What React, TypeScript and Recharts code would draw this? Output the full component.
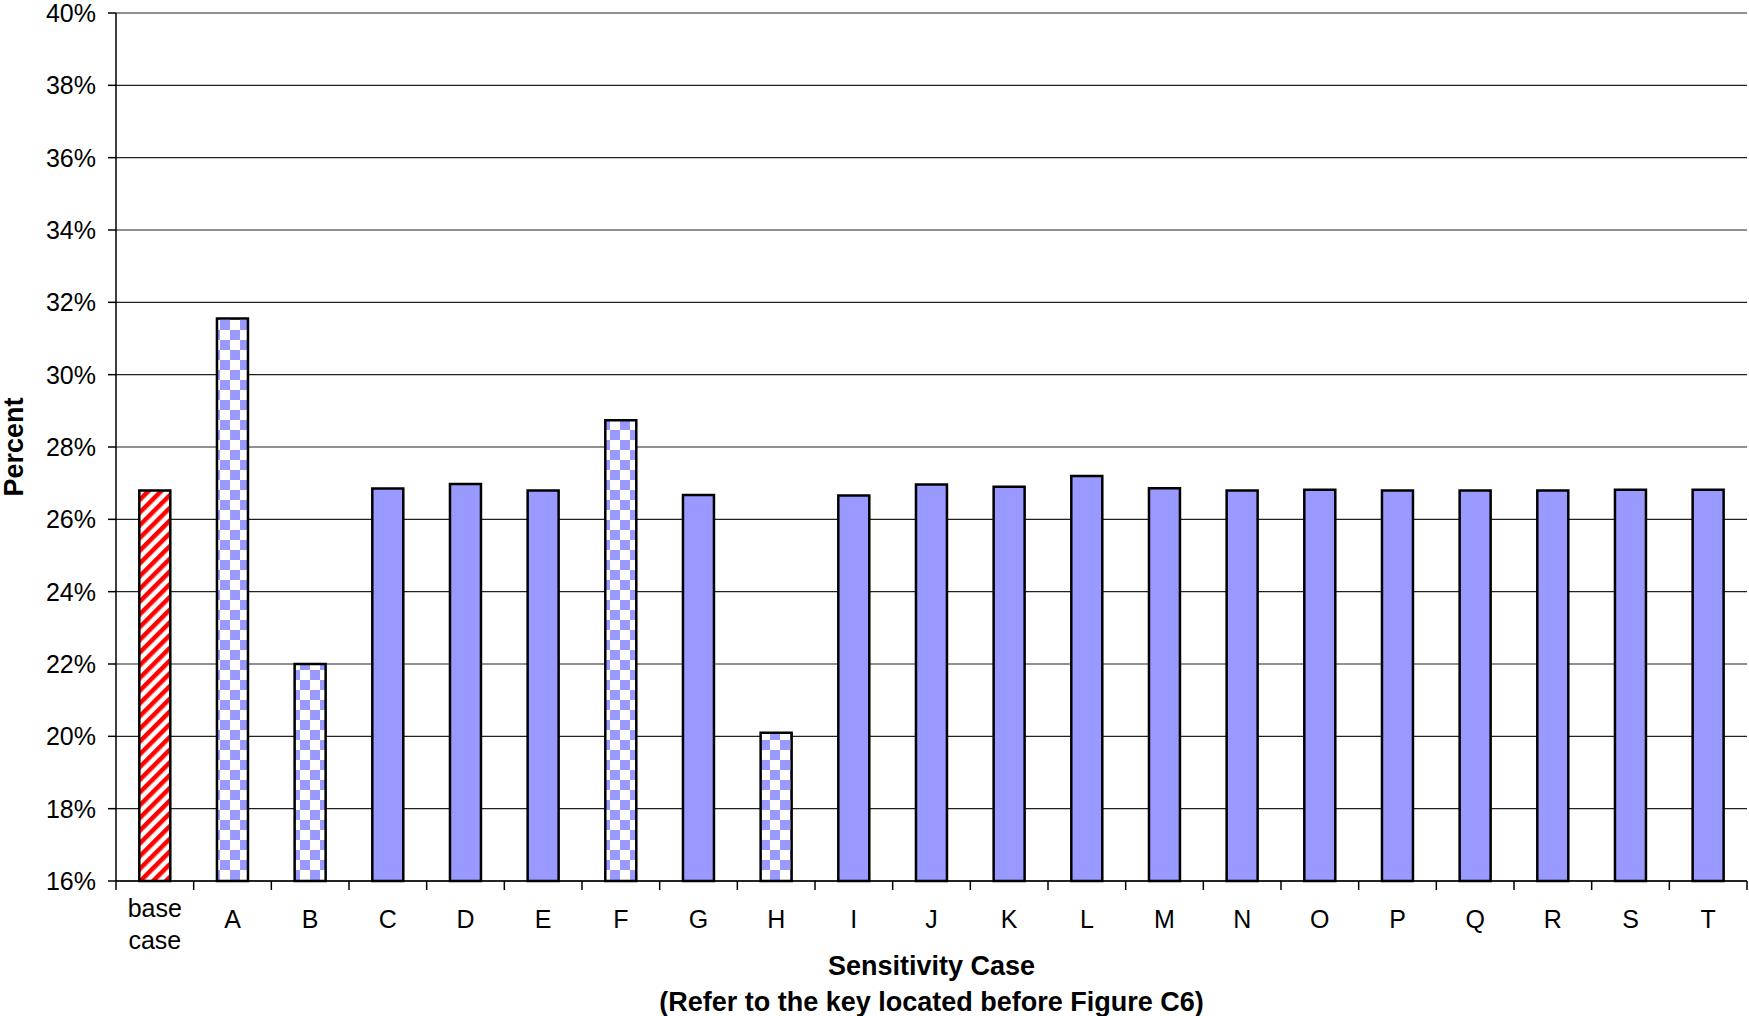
import { BarChart, Bar, XAxis, YAxis, CartesianGrid, Cell, Label } from 'recharts';

const cases = ['base case', 'A', 'B', 'C', 'D', 'E', 'F', 'G', 'H', 'I', 'J', 'K', 'L', 'M', 'N', 'O', 'P', 'Q', 'R', 'S', 'T'];
const percentValues = [
  26.8, 31.55, 22.0, 26.85, 26.98, 26.8, 28.74, 26.67, 20.1, 26.66, 26.96,
  26.9, 27.2, 26.86, 26.8, 26.82, 26.8, 26.8, 26.8, 26.82, 26.82,
];
// base = red stripes, alt = checkered, std = solid
const caseKinds = [
  'base', 'alt', 'alt', 'std', 'std', 'std', 'alt', 'std', 'alt', 'std', 'std',
  'std', 'std', 'std', 'std', 'std', 'std', 'std', 'std', 'std', 'std',
];
const yTicks = [16, 18, 20, 22, 24, 26, 28, 30, 32, 34, 36, 38, 40];

const W = 1749;
const H = 1016;
const margin = { top: 13, right: 2, left: 0, bottom: 0 };
const yAxisWidth = 116;
const xAxisHeight = 135;
const band = (W - margin.left - margin.right - yAxisWidth) / cases.length;
const font = '"Liberation Sans", Arial, sans-serif';
const blue = '#9999FF';

const data = cases.map((name, i) => ({ name, value: percentValues[i], kind: caseKinds[i] }));

const fillFor = (kind: string) =>
  kind === 'base' ? 'url(#redStripes)' : kind === 'alt' ? 'url(#blueChecker)' : blue;

function CaseTick(props: any) {
  const { x, y, payload, index } = props;
  const words = String(payload.value).split(' ');
  const last = index === cases.length - 1;
  return (
    <g>
      <line x1={x - band / 2} x2={x - band / 2} y1={y} y2={y + 9} stroke="#000" strokeWidth={1.5} />
      {last && <line x1={x + band / 2} x2={x + band / 2} y1={y} y2={y + 9} stroke="#000" strokeWidth={1.5} />}
      <text
        x={x}
        y={words.length > 1 ? y + 36 : y + 47}
        textAnchor="middle"
        fontFamily={font}
        fontSize={25}
        fill="#000"
      >
        {words.map((w, k) => (
          <tspan key={w} x={x} dy={k === 0 ? 0 : 32}>
            {w}
          </tspan>
        ))}
      </text>
    </g>
  );
}

function XTitle(props: any) {
  const { viewBox } = props;
  const cx = viewBox.x + viewBox.width / 2;
  return (
    <text textAnchor="middle" fontFamily={font} fontSize={27} fontWeight="bold" fill="#000">
      <tspan x={cx} y={viewBox.y + 94}>Sensitivity Case</tspan>
      <tspan x={cx} y={viewBox.y + 130}>(Refer to the key located before Figure C6)</tspan>
    </text>
  );
}

function YTitle(props: any) {
  const { viewBox } = props;
  const cy = viewBox.y + viewBox.height / 2;
  return (
    <text
      x={23}
      y={cy}
      transform={`rotate(-90, 23, ${cy})`}
      textAnchor="middle"
      fontFamily={font}
      fontSize={27}
      fontWeight="bold"
      fill="#000"
    >
      Percent
    </text>
  );
}

export default function App() {
  return (
    <div style={{ position: 'absolute', left: 0, top: 0, background: '#fff' }}>
      <svg width={0} height={0} style={{ position: 'absolute' }}>
        <defs>
          <pattern id="redStripes" patternUnits="userSpaceOnUse" width={9} height={9} patternTransform="rotate(45)">
            <rect width={9} height={9} fill="#fff" />
            <rect width={4.5} height={9} fill="#FF0000" />
          </pattern>
          <pattern id="blueChecker" patternUnits="userSpaceOnUse" width={20} height={20}>
            <rect width={20} height={20} fill="#fff" />
            <rect x={0} y={0} width={10} height={10} fill={blue} />
            <rect x={10} y={10} width={10} height={10} fill={blue} />
          </pattern>
        </defs>
      </svg>
      <BarChart width={W} height={H} data={data} margin={margin} barCategoryGap="30%">
        <CartesianGrid vertical={false} stroke="#222" strokeWidth={1.2} />
        <XAxis
          dataKey="name"
          height={xAxisHeight}
          interval={0}
          tickSize={0}
          tickMargin={0}
          tick={<CaseTick />}
          axisLine={{ stroke: '#000', strokeWidth: 1.5 }}
        >
          <Label content={<XTitle />} />
        </XAxis>
        <YAxis
          width={yAxisWidth}
          domain={[16, 40]}
          ticks={yTicks}
          interval={0}
          tickSize={8}
          tickMargin={12}
          tickFormatter={(v: number) => `${v}%`}
          tick={{ fontFamily: font, fontSize: 25, fill: '#000' }}
          tickLine={{ stroke: '#000', strokeWidth: 1.5 }}
          axisLine={{ stroke: '#000', strokeWidth: 1.5 }}
        >
          <Label content={<YTitle />} />
        </YAxis>
        <Bar dataKey="value" stroke="#000" strokeWidth={2.5} isAnimationActive={false}>
          {data.map((d) => (
            <Cell key={d.name} fill={fillFor(d.kind)} />
          ))}
        </Bar>
      </BarChart>
    </div>
  );
}
